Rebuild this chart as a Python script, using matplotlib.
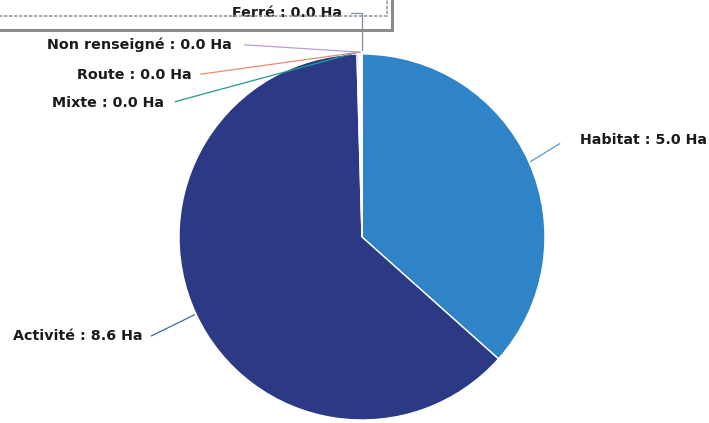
import matplotlib.pyplot as plt
from matplotlib.patches import Rectangle
import numpy as np

categories = ['Habitat', 'Activité', 'Mixte', 'Route', 'Non renseigné', 'Ferré']
surfaces = [5.0, 8.6, 0.02, 0.015, 0.015, 0.01]
colors = ['#2e84c6', '#2c3a86', '#1f9c8c', '#e38a78', '#b89ae0', '#f2a428']
line_colors = ['#5b9bd0', '#4a62a8', '#1f9c8c', '#e38a78', '#b89ae0', '#7a8fae']

# text positions (data units, pie radius = 1)
label_pos = [(1.19, 0.53), (-1.20, -0.54), (-1.08, 0.73), (-0.93, 0.885), (-0.71, 1.05), (-0.11, 1.225)]
line_ends = [(1.08, 0.51), (-1.15, -0.54), (-1.02, 0.74), (-0.88, 0.89), (-0.64, 1.05), (-0.06, 1.225)]

fig = plt.figure(figsize=(7.09, 4.23), dpi=100)
W, H = 709, 423
cx, cy, r = 362, 237, 183
ax = fig.add_axes([(cx - r) / W, (H - cy - r) / H, 2 * r / W, 2 * r / H])

wedges, _ = ax.pie(surfaces, colors=colors, startangle=90, counterclock=False,
                   wedgeprops=dict(edgecolor='white', linewidth=1))
ax.set_xlim(-1, 1)
ax.set_ylim(-1, 1)
ax.set_aspect('equal')
ax.axis('off')

for i, w in enumerate(wedges):
    ang = np.deg2rad((w.theta1 + w.theta2) / 2)
    ex, ey = np.cos(ang), np.sin(ang)
    lx, ly = line_ends[i]
    tx, ty = label_pos[i]
    if categories[i] == 'Ferré':
        ax.plot([lx, 0.0, 0.0], [ly, ly, 1.02], color=line_colors[i], lw=0.9, clip_on=False)
    else:
        ax.plot([ex * 1.01, lx], [ey * 1.01, ly], color=line_colors[i], lw=0.9, clip_on=False)
    ha = 'left' if tx > 0 else 'right'
    ax.text(tx, ty, f"{categories[i]} : {surfaces[i]:.1f} Ha", ha=ha, va='center',
            fontsize=10.3, fontweight='bold', color='#1a1a1a', clip_on=False)

# scanned frame at the top
fig.patches.append(Rectangle((-10, H - 30), 402, 60, transform=None, fill=False,
                             edgecolor='#8a8a8a', lw=2.2))
fig.patches.append(Rectangle((-10, H - 16), 397, 40, transform=None, fill=False,
                             edgecolor='#9a9a9a', lw=1.2, linestyle=(0, (2, 1))))

plt.savefig('out.png', dpi=100)
